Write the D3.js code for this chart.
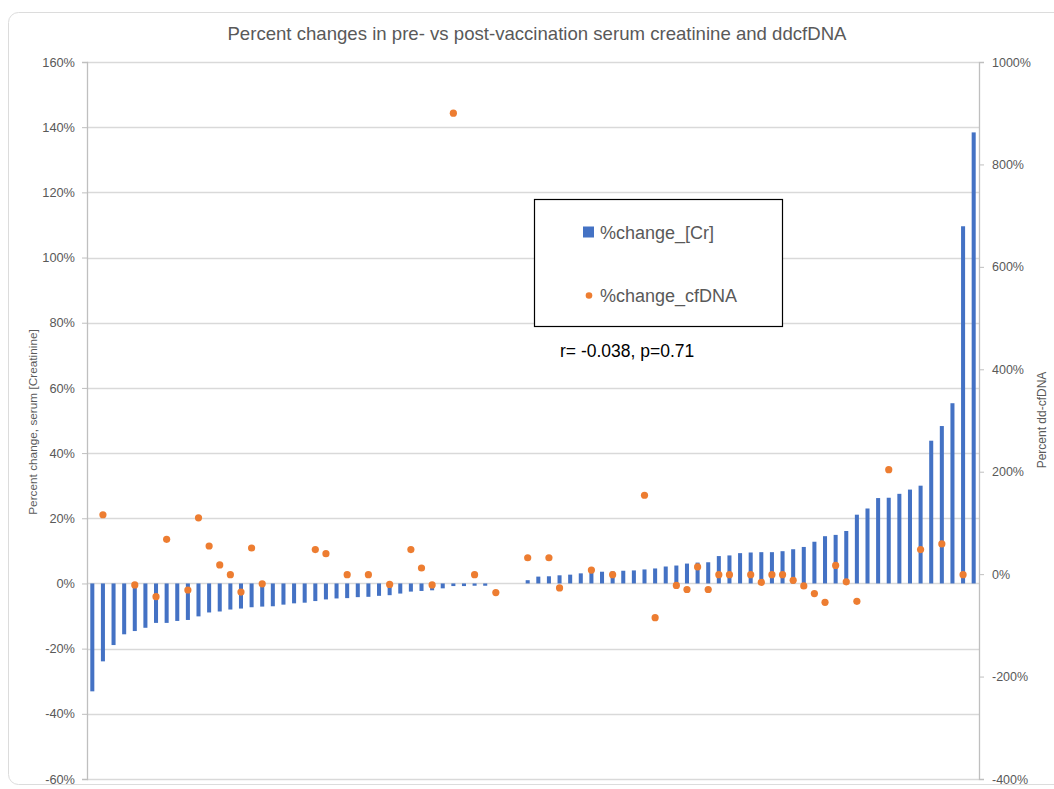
<!DOCTYPE html>
<html>
<head>
<meta charset="utf-8">
<script src="https://cdn.jsdelivr.net/npm/d3@7"></script>
<style>
  html, body { margin: 0; padding: 0; background: #ffffff; }
  svg { display: block; font-family: "Liberation Sans", Arial, sans-serif; }
</style>
</head>
<body>
<svg id="chart" width="1054" height="789"></svg>
<script>
// ---- Data ----
const title = "Percent changes in pre- vs post-vaccination serum creatinine and ddcfDNA";
const seriesNames = ["%change_[Cr]", "%change_cfDNA"];
const annotation = "r= -0.038, p=0.71";
const leftAxisTitle = "Percent change, serum [Creatinine]";
const rightAxisTitle = "Percent dd-cfDNA";

// %change in serum creatinine (sorted), one per patient
const crChange = [
  -33.1, -23.9, -18.9, -15.6, -14.6, -13.6, -12.1, -12.1, -11.5, -11.2,
  -10.1, -8.9, -8.6, -8.0, -7.7, -7.3, -7.1, -7.0, -6.5, -6.1,
  -5.9, -5.4, -4.9, -4.6, -4.5, -4.2, -4.1, -3.8, -3.6, -3.1,
  -2.5, -2.3, -2.1, -1.5, -0.8, -0.8, -0.7, -0.7, 0, 0,
  0, 1.0, 2.1, 2.2, 2.5, 2.7, 3.1, 3.5, 3.6, 3.7,
  3.9, 4.0, 4.3, 4.6, 5.2, 5.5, 6.1, 6.4, 6.5, 8.4,
  8.6, 9.3, 9.5, 9.6, 9.6, 9.9, 10.5, 11.2, 12.8, 14.5,
  14.9, 16.1, 21.1, 23.0, 26.2, 26.3, 27.5, 28.8, 30.0, 43.8,
  48.3, 55.3, 109.6, 138.4
];

// %change in dd-cfDNA for the same patients (null = not available)
const cfDNAChange = [
  null, 116, null, null, -21, null, -44, 68, null, -31,
  110, 55, 18, -1, -35, 51, -19, null, null, null,
  null, 48, 40, null, -1, null, -1, null, -20, null,
  48, 12, -21, null, 900, null, -1, null, -36, null,
  null, 32, null, 32, -27, null, null, 8, null, -1,
  null, null, 154, -85, null, -22, -30, 14, -30, -1,
  -1, null, -1, -16, -1, -1, -12, -23, -38, -55,
  17, -15, -53, null, null, 204, null, null, 48, null,
  59, null, -1, null
];

const patients = crChange.map((_, i) => "P" + (i + 1));

const leftTicks = [-60, -40, -20, 0, 20, 40, 60, 80, 100, 120, 140, 160];
const rightTicks = [-400, -200, 0, 200, 400, 600, 800, 1000];

// ---- Layout ----
const svg = d3.select("#chart");
const plot = { left: 87, right: 979, top: 62, bottom: 779 };
const textGrey = "#595959";
const gridGrey = "#d9d9d9";
const axisGrey = "#bfbfbf";
const blue = "#4472C4";
const orange = "#ED7D31";

// outer chart frame
svg.append("rect")
  .attr("x", 8.5).attr("y", 12.5)
  .attr("width", 1070).attr("height", 772)
  .attr("rx", 10).attr("ry", 10)
  .attr("fill", "#ffffff")
  .attr("stroke", "#dcdcdc").attr("stroke-width", 1);

const x = d3.scaleBand()
  .domain(patients)
  .range([plot.left, plot.right])
  .paddingInner(0.62)
  .paddingOuter(0.31);

const yL = d3.scaleLinear().domain([-60, 160]).range([plot.bottom, plot.top]);
const yR = d3.scaleLinear().domain([-400, 1000]).range([plot.bottom, plot.top]);

// gridlines
svg.append("g")
  .selectAll("line")
  .data(leftTicks)
  .join("line")
  .attr("x1", plot.left).attr("x2", plot.right)
  .attr("y1", d => Math.round(yL(d)) + 0.5)
  .attr("y2", d => Math.round(yL(d)) + 0.5)
  .attr("stroke", gridGrey).attr("stroke-width", 1.3);

// left axis
const leftAxis = svg.append("g")
  .attr("transform", `translate(${plot.left},0)`)
  .call(d3.axisLeft(yL).tickValues(leftTicks).tickFormat(d => d + "%").tickSize(5).tickPadding(7));
leftAxis.select(".domain").attr("stroke", axisGrey).attr("stroke-width", 1.3);
leftAxis.selectAll(".tick line").attr("stroke", axisGrey);
leftAxis.selectAll("text").attr("fill", textGrey).style("font-size", "12.8px")
  .style("font-family", "'Liberation Sans', Arial, sans-serif");

// right axis
const rightAxis = svg.append("g")
  .attr("transform", `translate(${plot.right},0)`)
  .call(d3.axisRight(yR).tickValues(rightTicks).tickFormat(d => d + "%").tickSize(5).tickPadding(8));
rightAxis.select(".domain").attr("stroke", axisGrey).attr("stroke-width", 1.3);
rightAxis.selectAll(".tick line").attr("stroke", axisGrey);
rightAxis.selectAll("text").attr("fill", textGrey).style("font-size", "12.5px")
  .style("font-family", "'Liberation Sans', Arial, sans-serif");

// bars
svg.append("g")
  .selectAll("rect")
  .data(patients.map((p, i) => ({ p, v: crChange[i] })).filter(d => d.v !== null && d.v !== 0))
  .join("rect")
  .attr("x", d => x(d.p))
  .attr("width", x.bandwidth())
  .attr("y", d => Math.min(yL(d.v), yL(0)))
  .attr("height", d => Math.abs(yL(d.v) - yL(0)))
  .attr("fill", blue);

// dots
svg.append("g")
  .selectAll("circle")
  .data(patients.map((p, i) => ({ p, v: cfDNAChange[i] })).filter(d => d.v !== null))
  .join("circle")
  .attr("cx", d => x(d.p) + x.bandwidth() / 2)
  .attr("cy", d => yR(d.v))
  .attr("r", 3.6)
  .attr("fill", orange);

// title
svg.append("text")
  .attr("x", 537).attr("y", 40)
  .attr("text-anchor", "middle")
  .attr("fill", textGrey)
  .style("font-size", "18.6px")
  .text(title);

// axis titles
svg.append("text")
  .attr("transform", `translate(37,422) rotate(-90)`)
  .attr("text-anchor", "middle")
  .attr("fill", textGrey)
  .style("font-size", "11.8px")
  .text(leftAxisTitle);

svg.append("text")
  .attr("transform", `translate(1046,420) rotate(-90)`)
  .attr("text-anchor", "middle")
  .attr("fill", textGrey)
  .style("font-size", "12px")
  .text(rightAxisTitle);

// legend
const lg = svg.append("g");
lg.append("rect")
  .attr("x", 534.5).attr("y", 199.5)
  .attr("width", 248).attr("height", 127)
  .attr("fill", "#ffffff")
  .attr("stroke", "#000000").attr("stroke-width", 1.2);
lg.append("rect")
  .attr("x", 583).attr("y", 226.5)
  .attr("width", 11).attr("height", 11)
  .attr("fill", blue);
lg.append("text")
  .attr("x", 600).attr("y", 238.5)
  .attr("fill", textGrey)
  .style("font-size", "18px")
  .text(seriesNames[0]);
lg.append("circle")
  .attr("cx", 589).attr("cy", 295.5).attr("r", 3.3)
  .attr("fill", orange);
lg.append("text")
  .attr("x", 600).attr("y", 301.5)
  .attr("fill", textGrey)
  .style("font-size", "18px")
  .text(seriesNames[1]);

// annotation
svg.append("text")
  .attr("x", 560).attr("y", 357)
  .attr("fill", "#000000")
  .style("font-size", "17.5px")
  .text(annotation);
</script>
</body>
</html>
